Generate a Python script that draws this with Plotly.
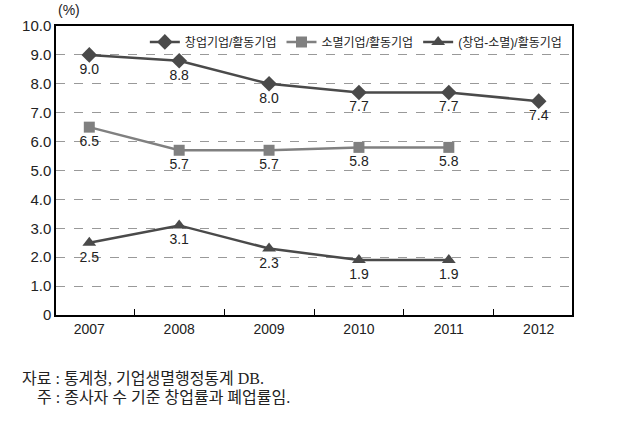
import plotly.graph_objects as go

YEARS = ["2007", "2008", "2009", "2010", "2011", "2012"]

STARTUP = [9.0, 8.8, 8.0, 7.7, 7.7, 7.4]
CLOSURE = [6.5, 5.7, 5.7, 5.8, 5.8, None]
NET     = [2.5, 3.1, 2.3, 1.9, 1.9, None]

Y_TICKS = [0, 1, 2, 3, 4, 5, 6, 7, 8, 9, 10]
Y_TEXT  = ["0", "1.0", "2.0", "3.0", "4.0", "5.0", "6.0", "7.0", "8.0", "9.0", "10.0"]

DARK = "#4a4a4a"
GREY = "#808080"
FONT = "Liberation Sans, Noto Sans CJK KR"
NOTE_FONT = "Liberation Serif, Noto Sans CJK KR"


def series(name, vals, color, symbol, size):
    return go.Scatter(
        x=YEARS, y=vals, name=name,
        mode="lines+markers+text",
        line=dict(color=color, width=2.5),
        marker=dict(color=color, symbol=symbol, size=size),
        text=[f"{v:.1f}" if v is not None else "" for v in vals],
        textposition="bottom center",
        textfont=dict(size=14, color="#222222"),
    )


fig = go.Figure([
    series("창업기업/활동기업", STARTUP, DARK, "diamond", 12),
    series("소멸기업/활동기업", CLOSURE, GREY, "square", 11),
    series("(창업-소멸)/활동기업", NET, DARK, "triangle-up", 12),
])

fig.update_layout(
    width=618, height=434,
    plot_bgcolor="white", paper_bgcolor="white",
    font=dict(family=FONT, color="#222222"),
    margin=dict(l=56, r=46, t=26, b=119),
    showlegend=True,
    legend=dict(
        orientation="h", x=0.99, xanchor="right", y=0.945, yanchor="middle",
        bgcolor="rgba(0,0,0,0)", font=dict(size=12),
        itemwidth=30,
    ),
    xaxis=dict(
        type="category", showgrid=False,
        showline=True, linecolor="black", linewidth=1.5, mirror=True,
        ticks="inside", tickson="boundaries", ticklen=6, tickcolor="black",
        tickfont=dict(size=14),
    ),
    yaxis=dict(
        range=[0, 10], tickvals=Y_TICKS, ticktext=Y_TEXT,
        showgrid=True, gridcolor="#999999", griddash="dash", gridwidth=1,
        showline=True, linecolor="black", linewidth=1.5, mirror=True,
        zeroline=False, tickfont=dict(size=15),
    ),
    annotations=[
        dict(text="(%)", xref="paper", yref="paper", x=0.0, y=1.055,
             xanchor="left", yanchor="middle", showarrow=False,
             font=dict(size=14)),
        dict(text="자료 : 통계청, 기업생멸행정통계 DB.", xref="paper", yref="paper",
             x=-0.07, y=-0.218, xanchor="left", yanchor="middle", showarrow=False,
             font=dict(size=16, family=NOTE_FONT)),
        dict(text="주 : 종사자 수 기준 창업률과 폐업률임.", xref="paper", yref="paper",
             x=-0.041, y=-0.284, xanchor="left", yanchor="middle", showarrow=False,
             font=dict(size=16, family=NOTE_FONT)),
    ],
)

fig.write_html("out.html", config={"displayModeBar": False},
               post_script="document.body.style.margin='0px';")
